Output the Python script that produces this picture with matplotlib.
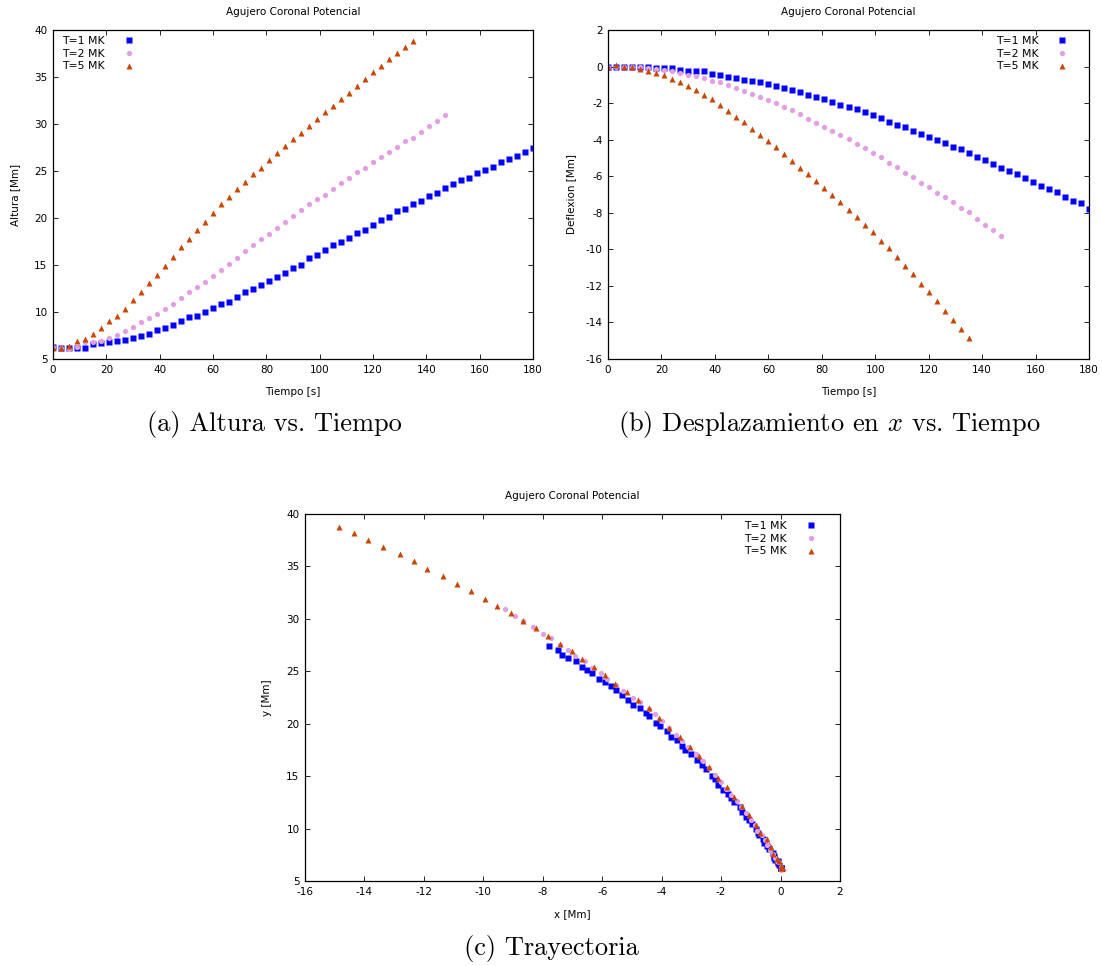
import matplotlib
matplotlib.use("Agg")
import matplotlib.pyplot as plt

plt.rcParams['font.family'] = ['DejaVu Sans']
plt.rcParams['axes.unicode_minus'] = False
plt.rcParams['mathtext.fontset'] = 'cm'

# tiempo [s], paso de 3 s
t1 = list(range(0, 181, 3))
t2 = list(range(0, 148, 3))
t5 = list(range(0, 136, 3))

# altura [Mm]
alt_1 = [6.24, 6.2, 6.2, 6.2, 6.2, 6.55, 6.7, 6.8, 6.9, 7.05, 7.2, 7.4, 7.7, 8.05, 8.3,
         8.6, 9.05, 9.43, 9.6, 10.0, 10.4, 10.8, 11.1, 11.6, 12.1, 12.5, 12.9, 13.3, 13.7,
         14.2, 14.7, 15.0, 15.7, 16.1, 16.55, 17.1, 17.5, 17.9, 18.4, 18.75, 19.3, 19.75,
         20.1, 20.7, 21.0, 21.5, 21.8, 22.3, 22.7, 23.2, 23.6, 24.0, 24.3, 24.8, 25.1, 25.4,
         26.0, 26.25, 26.6, 27.05, 27.4]
alt_2 = [6.24, 6.2, 6.05, 6.3, 6.8, 6.85, 6.95, 7.2, 7.55, 8.0, 8.4, 8.95, 9.35, 9.75,
         10.3, 10.85, 11.5, 12.1, 12.65, 13.2, 13.8, 14.45, 15.1, 15.75, 16.45, 17.1, 17.8,
         18.35, 18.95, 19.6, 20.25, 20.9, 21.45, 22.05, 22.5, 23.1, 23.7, 24.3, 24.85, 25.3,
         26.0, 26.5, 27.0, 27.55, 28.2, 28.55, 29.2, 29.75, 30.3, 30.95]
alt_5 = [6.2, 6.2, 6.42, 6.88, 7.13, 7.62, 8.26, 9.0, 9.6, 10.3, 11.27, 12.16, 13.04, 13.96,
         14.85, 15.84, 16.94, 17.75, 18.71, 19.56, 20.55, 21.47, 22.25, 23.07, 23.8, 24.63,
         25.37, 26.18, 26.89, 27.64, 28.38, 29.09, 29.8, 30.54, 31.25, 31.89, 32.63, 33.34,
         34.08, 34.79, 35.5, 36.2, 36.88, 37.52, 38.23, 38.8]

# deflexion [Mm]
def_1 = [0.0, 0.0, 0.0, 0.0, 0.0, -0.04, -0.08, -0.1, -0.08, -0.18, -0.22, -0.22, -0.26,
         -0.4, -0.46, -0.56, -0.6, -0.73, -0.77, -0.82, -0.97, -1.07, -1.17, -1.29, -1.38,
         -1.58, -1.68, -1.77, -1.95, -2.1, -2.19, -2.32, -2.51, -2.64, -2.82, -3.02, -3.2,
         -3.3, -3.5, -3.68, -3.83, -4.04, -4.19, -4.41, -4.52, -4.74, -4.97, -5.12, -5.34,
         -5.54, -5.72, -5.9, -6.1, -6.34, -6.52, -6.69, -6.89, -7.16, -7.36, -7.49, -7.78]
def_2 = [0.0, 0.0, 0.0, 0.0, -0.04, -0.07, -0.13, -0.18, -0.24, -0.36, -0.46, -0.51, -0.64,
         -0.78, -0.87, -1.0, -1.15, -1.33, -1.48, -1.66, -1.84, -2.02, -2.2, -2.4, -2.62,
         -2.86, -3.1, -3.33, -3.53, -3.75, -3.99, -4.24, -4.44, -4.74, -4.97, -5.3, -5.52,
         -5.85, -6.05, -6.36, -6.59, -6.92, -7.14, -7.43, -7.72, -7.98, -8.32, -8.66, -8.93,
         -9.26]
def_5 = [0.0, 0.08, 0.0, -0.05, -0.11, -0.24, -0.33, -0.46, -0.69, -0.84, -1.07, -1.29,
         -1.58, -1.8, -2.1, -2.42, -2.75, -3.06, -3.4, -3.74, -4.08, -4.41, -4.79, -5.18,
         -5.56, -5.9, -6.28, -6.67, -7.03, -7.43, -7.84, -8.24, -8.67, -9.07, -9.55, -9.95,
         -10.42, -10.9, -11.37, -11.88, -12.34, -12.81, -13.36, -13.88, -14.34, -14.86]

labels = ["T=1 MK", "T=2 MK", "T=5 MK"]
styles = [dict(marker='s', color='#0000ff', ms=3.8),
          dict(marker='o', color='#e2a0e2', ms=3.8),
          dict(marker='^', color='#c84600', ms=4.2)]

W, H = 1102, 966
fig = plt.figure(figsize=(W / 100, H / 100), dpi=100)


def px_axes(left, top, right, bottom):
    return fig.add_axes([left / W, 1 - bottom / H, (right - left) / W, (bottom - top) / H])


def style_ax(ax):
    for s in ax.spines.values():
        s.set_linewidth(0.9)
    ax.tick_params(direction='in', length=3.6, width=0.6, labelsize=7.5,
                   top=True, right=True, pad=4)


def draw(ax, xs, ys, legend_loc, anchor):
    for x, y, lab, st in zip(xs, ys, labels, styles):
        ax.plot(x, y, linestyle='none', mec='none', label=lab, **st)
    ax.legend(loc=legend_loc, bbox_to_anchor=anchor, frameon=False, fontsize=7.8,
              markerfirst=False, handlelength=1.0, handletextpad=1.7,
              labelspacing=0.25, borderpad=0, borderaxespad=0)
    style_ax(ax)


cap = dict(family='cmr10', fontsize=19, ha='center', va='center')

# (a)
ax1 = px_axes(53, 30, 533, 359)
draw(ax1, [t1, t2, t5], [alt_1, alt_2, alt_5], 'upper left', (0.019, 0.982))
ax1.set_xlim(0, 180)
ax1.set_ylim(5, 40)
ax1.set_xticks(range(0, 181, 20))
ax1.set_yticks(range(5, 41, 5))
ax1.set_title("Agujero Coronal Potencial", fontsize=7.5, pad=11)
ax1.set_xlabel("Tiempo [s]", fontsize=7.5, labelpad=9)
ax1.set_ylabel("Altura [Mm]", fontsize=7.5, labelpad=10)
fig.text(274 / W, 1 - 425 / H, "(a) Altura vs. Tiempo", **cap)

# (b)
ax2 = px_axes(608, 30, 1089, 359)
draw(ax2, [t1, t2, t5], [def_1, def_2, def_5], 'upper right', (0.956, 0.982))
ax2.set_xlim(0, 180)
ax2.set_ylim(-16, 2)
ax2.set_xticks(range(0, 181, 20))
ax2.set_yticks(range(-16, 3, 2))
ax2.set_title("Agujero Coronal Potencial", fontsize=7.5, pad=11)
ax2.set_xlabel("Tiempo [s]", fontsize=7.5, labelpad=9)
ax2.set_ylabel("Deflexion [Mm]", fontsize=7.5, labelpad=6.5)
fig.text(829 / W, 1 - 425 / H, "(b) Desplazamiento en $x$ vs. Tiempo", **cap)

# (c)
ax3 = px_axes(305, 514, 840, 881)
draw(ax3, [def_1, def_2, def_5], [alt_1, alt_2, alt_5], 'upper right', (0.955, 0.981))
ax3.set_xlim(-16, 2)
ax3.set_ylim(5, 40)
ax3.set_xticks(range(-16, 3, 2))
ax3.set_yticks(range(5, 41, 5))
ax3.set_title("Agujero Coronal Potencial", fontsize=7.5, pad=11)
ax3.set_xlabel("x [Mm]", fontsize=7.5, labelpad=9)
ax3.set_ylabel("y [Mm]", fontsize=7.5, labelpad=10.5)
fig.text(551 / W, 1 - 949 / H, "(c) Trayectoria", **cap)

fig.savefig("out.png", dpi=100)
